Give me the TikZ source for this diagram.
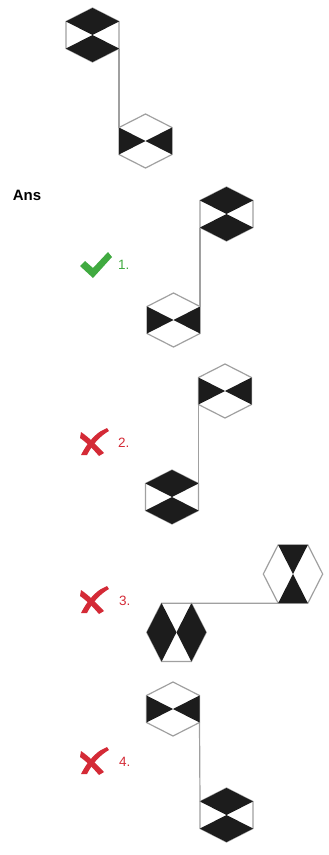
\documentclass[tikz,border=0pt]{standalone}
\usepackage{fontspec}
\setmainfont{Liberation Sans}
\usetikzlibrary{calc}
\definecolor{hexBlack}{RGB}{28,28,28}
\definecolor{hexEdge}{RGB}{160,160,160}
\definecolor{okGreen}{RGB}{64,170,64}
\definecolor{badRed}{RGB}{212,42,54}
\tikzset{
  hexedge/.style = {draw=hexEdge, line width=1.2pt, fill=white},
  hexfill/.style = {fill=hexBlack},
  link/.style    = {draw=hexEdge, line width=1.2pt},
  optnum/.style  = {font=\fontsize{13.5}{13.5}\selectfont, anchor=west, inner sep=0pt},
  anslabel/.style = {font=\bfseries\fontsize{15}{15}\selectfont, inner sep=0pt}
}
\newcommand{\hexcorners}[1]{%
  \coordinate (#1-c)  at (0,0);
  \coordinate (#1-t)  at (0,-27);
  \coordinate (#1-ur) at (26.5,-13.5);
  \coordinate (#1-lr) at (26.5,13.5);
  \coordinate (#1-b)  at (0,27);
  \coordinate (#1-ll) at (-26.5,13.5);
  \coordinate (#1-ul) at (-26.5,-13.5);
  \path[hexedge] (#1-t) -- (#1-ur) -- (#1-lr) -- (#1-b) -- (#1-ll) -- (#1-ul) -- cycle;}
% top and bottom rhombi black
\newcommand{\hexA}[3]{%
  \begin{scope}[shift={#2},#3]
  \hexcorners{#1}
  \fill[hexfill] (#1-t) -- (#1-ur) -- (#1-c) -- (#1-ul) -- cycle;
  \fill[hexfill] (#1-b) -- (#1-lr) -- (#1-c) -- (#1-ll) -- cycle;
  \end{scope}}
% left and right triangles black
\newcommand{\hexB}[3]{%
  \begin{scope}[shift={#2},#3]
  \hexcorners{#1}
  \fill[hexfill] (#1-ul) -- (#1-c) -- (#1-ll) -- cycle;
  \fill[hexfill] (#1-ur) -- (#1-c) -- (#1-lr) -- cycle;
  \end{scope}}
\newcommand{\crossmark}[2]{%
  \begin{scope}[shift={#2}]
  \coordinate (#1) at (0,0);
  \fill[badRed] (-13,-10) .. controls (-4,-4) and (3,4) .. (10,11)
    -- (5,14) .. controls (-1,7) and (-7,1) .. (-14,-4) -- cycle;
  \fill[badRed] (13,-14) -- (15,-11) .. controls (6,-6) and (-2,3) .. (-7,13)
    -- (-13,13) .. controls (-7,1) and (2,-9) .. (9,-12) -- cycle;
  \end{scope}}

\begin{document}
\begin{tikzpicture}[x=1pt, y=-1pt]
\useasboundingbox[fill=white] (0,0) rectangle (329,855);
% question figure
\hexA{qa}{(92.5,35)}{}
\hexB{qb}{(145.5,141)}{}
\draw[link] (qa-lr) -- (qb-ul);
\node[anslabel] (ans) at (27,195) {Ans};
% option 1
\hexA{oa}{(226.5,214)}{}
\hexB{ob}{(173.5,320)}{}
\draw[link] (oa-ll) -- (ob-ur);
\fill[okGreen] (80,266) -- (85,261) -- (93,268) -- (108,252) -- (112,257)
  -- (93,278) -- cycle;
\coordinate (chk) at (96,266);
\node[optnum, text=okGreen] (n1) at (118,265) {1.};
% option 2
\hexB{pa}{(225,391)}{}
\hexA{pb}{(172,497)}{}
\draw[link] (pa-ll) -- (pb-ur);
\crossmark{x2}{(94,442)}
\node[optnum, text=badRed] (n2) at (118,443) {2.};
% option 3
\hexB{ra}{(293,574)}{rotate=90, scale=1.1}
\hexA{rb}{(176.5,632.3)}{rotate=90, scale=1.1}
\draw[link] (rb-lr) -- (ra-ul);
\crossmark{x3}{(94,600)}
\node[optnum, text=badRed] (n3) at (119,601) {3.};
% option 4
\hexB{sa}{(173,709)}{}
\hexA{sb}{(226.5,815)}{}
\draw[link] (sa-lr) -- (sb-ul);
\crossmark{x4}{(94,761)}
\node[optnum, text=badRed] (n4) at (119,762) {4.};
\end{tikzpicture}
\end{document}
